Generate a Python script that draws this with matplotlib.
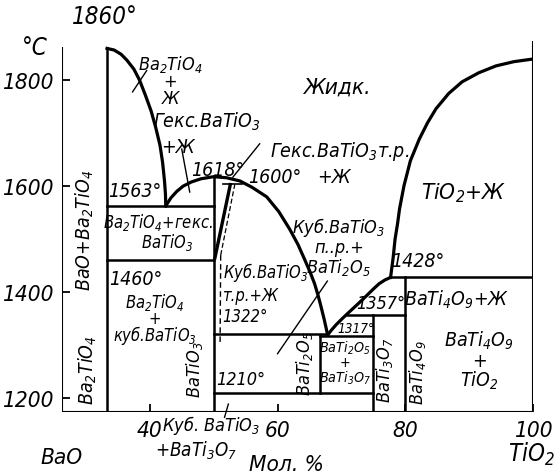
import os
import matplotlib
matplotlib.use('Agg')
import matplotlib.pyplot as plt
from matplotlib import font_manager

plt.rcParams['mathtext.default'] = 'regular'

# composition in mol. % TiO2, temperature in deg C
t_min = 1174
x_left = 26.25

# liquidus branches
liq_ba2tio4_x = [33.3, 34.4, 35.5, 36.4, 37.5, 38.4, 39.3, 40.2, 40.9, 41.6, 42.0, 42.3, 42.45, 42.5]
liq_ba2tio4_t = [1860, 1857, 1849, 1838, 1821, 1800, 1772, 1742, 1712, 1677, 1645, 1610, 1585, 1563]

liq_batio3_x = [42.5, 43.3, 44.2, 45.2, 46.5, 48.0, 50.0, 52.0, 54.1, 56.0, 58.3, 60.2, 61.9,
                63.2, 64.2, 65.1, 65.8, 66.3, 66.7, 67.3, 67.8]
liq_batio3_t = [1563, 1578, 1590, 1600, 1608, 1614, 1618, 1616, 1610, 1598, 1580, 1552, 1519,
                1490, 1463, 1438, 1416, 1396, 1378, 1349, 1322]

liq_bati2o5_x = [67.9, 68.4, 69.2, 70.2, 71.25, 72.6, 73.9, 75.0, 75.9, 76.8, 77.7]
liq_bati2o5_t = [1320, 1328, 1339, 1351, 1363, 1378, 1393, 1406, 1416, 1423, 1428]

liq_tio2_x = [77.7, 78.1, 78.4, 78.8, 79.1, 79.8, 80.8, 82.2, 83.5, 84.8, 86.8, 88.9, 91.5, 94.2, 97.0, 100.0]
liq_tio2_t = [1428, 1465, 1500, 1530, 1557, 1601, 1648, 1689, 1720, 1746, 1775, 1797, 1814, 1827, 1835, 1840]

# isotherms
iso_t = [1563, 1460, 1322, 1317, 1210, 1357, 1428]
iso_x0 = [33.3, 33.3, 50.0, 66.7, 50.0, 70.8, 77.7]
iso_x1 = [50.0, 50.0, 67.8, 75.0, 75.0, 80.0, 100.0]

# compounds (vertical lines)
comp_x = [33.3, 50.0, 66.7, 75.0, 80.0]
comp_top = [1860, 1618, 1317, 1357, 1428]
comp_bottom = [t_min, t_min, 1210, t_min, t_min]

# pick a narrow italic face if one is installed
font_file = None
files = [f.fname for f in font_manager.fontManager.ttflist]
for key in ['LiberationSansNarrow-Italic', 'NotoSans-CondensedItalic', 'DejaVuSansCondensed-Oblique',
            'NotoSans-SemiCondensedItalic', 'Roboto-Italic', 'Lato-Italic']:
	hit = [f for f in files if os.path.basename(f).startswith(key)]
	if hit:
		font_file = hit[0]
		break
scale = 1.08 if font_file else 0.88


def fp(size):
	if font_file:
		return font_manager.FontProperties(fname=font_file, size=size * scale)
	return font_manager.FontProperties(family='DejaVu Sans', style='italic', size=size * scale)


fig = plt.figure(figsize=(5.55, 4.77), dpi=100)
ax = fig.add_axes([62/555, 1-413/477, 471/555, 371/477])
ax.set_xlim(x_left, 100)
ax.set_ylim(t_min, 1874)
for s in ax.spines.values():
	s.set_visible(False)

lw_frame = 1.5
lw_curve = 2.3
lw_iso = 1.8
k = 'black'

# frame
ax.plot([x_left, x_left], [t_min, 1862], color=k, lw=lw_frame, solid_capstyle='butt')
ax.plot([100, 100], [t_min, 1874], color=k, lw=lw_frame, solid_capstyle='butt')
ax.plot([x_left, 100], [t_min, t_min], color=k, lw=lw_frame, solid_capstyle='butt')

for cx, ct in [(liq_ba2tio4_x, liq_ba2tio4_t), (liq_batio3_x, liq_batio3_t),
               (liq_bati2o5_x, liq_bati2o5_t), (liq_tio2_x, liq_tio2_t)]:
	ax.plot(cx, ct, color=k, lw=lw_curve, solid_joinstyle='round')

for t, a, b in zip(iso_t, iso_x0, iso_x1):
	ax.plot([a, b], [t, t], color=k, lw=lw_iso)
for x, a, b in zip(comp_x, comp_bottom, comp_top):
	ax.plot([x, x], [a, b], color=k, lw=lw_iso)

# BaTiO3 solid solution region
ax.plot([50.2, 52.6], [1465, 1603], color=k, lw=2.4)
ax.plot([51.1, 53.3], [1470, 1603], color=k, lw=0.9, ls=(0, (4, 2)))
ax.plot([51.1, 51.0], [1470, 1300], color=k, lw=1.0, ls=(0, (4, 2.5)))
ax.plot([51.5, 54.5], [1604, 1604], color=k, lw=1.2)

# leaders
leaders = [
	((37.3, 39.5), (1778, 1818)),
	((45.0, 46.25), (1670, 1589)),
	((57.2, 53.0), (1680, 1617)),
	((67.8, 60.0), (1421, 1284)),
	((51.7, 52.3), (1164, 1189)),
]
for lx, ly in leaders:
	ax.plot(lx, ly, color=k, lw=1.0, clip_on=False)

ax.set_yticks([1200, 1400, 1600, 1800])
ax.set_yticklabels(['1200', '1400', '1600', '1800'], fontproperties=fp(15))
ax.set_xticks([40, 60, 80, 100])
ax.set_xticklabels(['40', '60', '80', '100'], fontproperties=fp(15))
ax.tick_params(axis='both', direction='in', length=6, width=1.3, pad=6)
ax.tick_params(axis='x', pad=6)


def txt(s, x, y, size=13, rot=0, ls=1.2, ha='center'):
	ax.text(x, y, s, fontproperties=fp(size), rotation=rot, ha=ha, va='center',
	        multialignment=ha, linespacing=ls, clip_on=False)


txt('1860°', 33.0, 1922, 16)
txt('°C', 22.0, 1863, 16)
txt('Ba$_2$TiO$_4$\n+\nЖ', 43.2, 1801, 12, ls=0.9)
txt('Гекс.BaTiO$_3$', 48.9, 1723)
txt('+Ж', 44.4, 1674)
txt('1618°', 50.6, 1631)
txt('1563°', 37.7, 1591)
txt('Ba$_2$TiO$_4$+гекс.', 41.25, 1534, 11)
txt('BaTiO$_3$', 42.7, 1495, 11)
txt('Гекс.BaTiO$_3$т.р.', 69.7, 1667)
txt('+Ж', 68.9, 1619)
txt('1600°', 59.5, 1619)
txt('Жидк.', 69.2, 1787, 15)
txt('TiO$_2$+Ж', 89.1, 1589, 15)
txt('Куб.BaTiO$_3$\nп..р.+\nBaTi$_2$O$_5$', 69.6, 1488, 12, ls=1.0)
txt('1428°', 81.9, 1459)
txt('1357°', 76.1, 1380, 12)
txt('BaTi$_4$O$_9$+Ж', 88.1, 1387)
txt('BaTi$_4$O$_9$\n+\nTiO$_2$', 91.6, 1272, 13, ls=0.95)
txt('1317°', 72.3, 1332, 9)
txt('BaTi$_2$O$_5$\n+\nBaTi$_3$O$_7$', 70.5, 1268, 9.5, ls=0.95)
txt('BaTi$_2$O$_5$', 64.2, 1268, 12, 90)
txt('BaTi$_3$O$_7$', 76.7, 1255, 12, 90)
txt('BaTi$_4$O$_9$', 81.9, 1251, 12, 90)
txt('BaTiO$_3$', 47.0, 1255, 12, 90)
txt('Ba$_2$TiO$_4$', 30.3, 1255, 13, 90)
txt('BaO+Ba$_2$TiO$_4$', 29.8, 1519, 13, 90)
txt('1460°', 37.8, 1425)
txt('Ba$_2$TiO$_4$\n+\nкуб.BaTiO$_3$', 40.8, 1350, 11, ls=0.78)
txt('Куб.BaTiO$_3$\nт.р.+Ж\n1322°', 51.4, 1400, 11, ls=1.2, ha='left')
txt('1210°', 54.2, 1236, 12)
txt('BaO', 26.25, 1089, 15)
txt('Мол. %', 61.4, 1076, 15)
txt('Куб. BaTiO$_3$', 49.6, 1150, 12)
txt('+BaTi$_3$O$_7$', 47.3, 1103, 12.5)
txt('TiO$_2$', 99.7, 1096, 16)

fig.savefig('out.png', dpi=100)
